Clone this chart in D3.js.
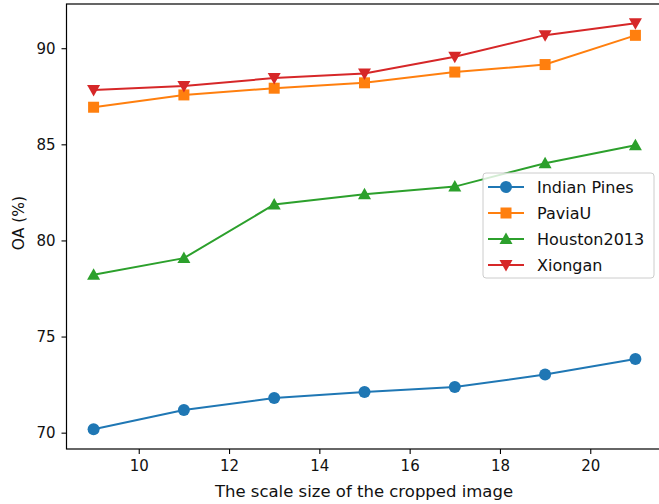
<!DOCTYPE html>
<html>
<head>
<meta charset="utf-8">
<script src="https://cdn.jsdelivr.net/npm/d3@7"></script>
<style>
  body { margin: 0; background: #fff; }
  svg text { font-family: "DejaVu Sans", sans-serif; }
</style>
</head>
<body>
<div id="chart"></div>
<script>
// data
const scales = [9, 11, 13, 15, 17, 19, 21];
const indianPines = [70.18, 71.18, 71.80, 72.12, 72.38, 73.02, 73.83];
const paviaU = [86.93, 87.57, 87.92, 88.20, 88.76, 89.15, 90.67];
const houston2013 = [78.22, 79.08, 81.87, 82.40, 82.80, 84.02, 84.95];
const xiongan = [87.83, 88.03, 88.45, 88.68, 89.56, 90.68, 91.30];
const xTicks = [10, 12, 14, 16, 18, 20];
const yTicks = [70, 75, 80, 85, 90];

const series = [
  { name: "Indian Pines", values: indianPines, color: "#1f77b4", marker: "circle" },
  { name: "PaviaU", values: paviaU, color: "#ff7f0e", marker: "square" },
  { name: "Houston2013", values: houston2013, color: "#2ca02c", marker: "up" },
  { name: "Xiongan", values: xiongan, color: "#d62728", marker: "down" }
];

const width = 659, height = 504;
const plot = { left: 66.5, right: 662.5, top: 4, bottom: 449 };

const svg = d3.select("#chart")
  .append("svg")
  .attr("width", width)
  .attr("height", height);

const x = d3.scaleLinear().domain([8.4, 21.6]).range([plot.left, plot.right]);
const y = d3.scaleLinear().domain([69.15, 92.3]).range([plot.bottom, plot.top]);

// axes
const xAxis = svg.append("g")
  .attr("transform", `translate(0, ${plot.bottom})`)
  .call(d3.axisBottom(x).tickValues(xTicks).tickSize(5).tickPadding(6).tickFormat(d3.format("d")));
const yAxis = svg.append("g")
  .attr("transform", `translate(${plot.left}, 0)`)
  .call(d3.axisLeft(y).tickValues(yTicks).tickSize(5).tickPadding(6).tickFormat(d3.format("d")));

[xAxis, yAxis].forEach(ax => {
  ax.select(".domain").remove();
  ax.selectAll(".tick line").attr("stroke", "#000").attr("stroke-width", 1.1);
  ax.selectAll(".tick text").attr("font-size", 15).attr("fill", "#111")
    .style("font-family", '"DejaVu Sans", sans-serif');
});

// frame
svg.append("rect")
  .attr("x", plot.left)
  .attr("y", plot.top)
  .attr("width", plot.right - plot.left)
  .attr("height", plot.bottom - plot.top)
  .attr("fill", "none")
  .attr("stroke", "#000")
  .attr("stroke-width", 1.2);

// axis labels
svg.append("text")
  .attr("x", 364)
  .attr("y", 497)
  .attr("text-anchor", "middle")
  .attr("font-size", 16.5)
  .attr("fill", "#111")
  .text("The scale size of the cropped image");

svg.append("text")
  .attr("transform", `translate(24, 223) rotate(-90)`)
  .attr("text-anchor", "middle")
  .attr("font-size", 15.5)
  .attr("fill", "#111")
  .text("OA (%)");

function drawMarker(g, type, cx, cy, color) {
  if (type === "circle") {
    g.append("circle").attr("cx", cx).attr("cy", cy).attr("r", 6).attr("fill", color);
  } else if (type === "square") {
    g.append("rect").attr("x", cx - 5.5).attr("y", cy - 5.5).attr("width", 11).attr("height", 11).attr("fill", color);
  } else if (type === "up") {
    g.append("path").attr("d", `M${cx},${cy - 6.5}L${cx + 6.5},${cy + 5}L${cx - 6.5},${cy + 5}Z`).attr("fill", color);
  } else {
    g.append("path").attr("d", `M${cx},${cy + 6.5}L${cx + 6.5},${cy - 5}L${cx - 6.5},${cy - 5}Z`).attr("fill", color);
  }
}

const line = d3.line()
  .x((d, i) => x(scales[i]))
  .y(d => y(d));

series.forEach(s => {
  const g = svg.append("g");
  g.append("path")
    .datum(s.values)
    .attr("d", line)
    .attr("fill", "none")
    .attr("stroke", s.color)
    .attr("stroke-width", 2);
  s.values.forEach((v, i) => drawMarker(g, s.marker, x(scales[i]), y(v), s.color));
});

// legend
const legend = svg.append("g");
legend.append("rect")
  .attr("x", 483)
  .attr("y", 173)
  .attr("width", 171)
  .attr("height", 105)
  .attr("rx", 3)
  .attr("fill", "#fff")
  .attr("fill-opacity", 0.8)
  .attr("stroke", "#ccc")
  .attr("stroke-width", 1);

series.forEach((s, i) => {
  const ly = 187 + i * 26;
  legend.append("line")
    .attr("x1", 488).attr("x2", 524)
    .attr("y1", ly).attr("y2", ly)
    .attr("stroke", s.color)
    .attr("stroke-width", 2);
  drawMarker(legend, s.marker, 506, ly, s.color);
  legend.append("text")
    .attr("x", 537)
    .attr("y", ly + 6)
    .attr("font-size", 16)
    .attr("fill", "#111")
    .text(s.name);
});
</script>
</body>
</html>
